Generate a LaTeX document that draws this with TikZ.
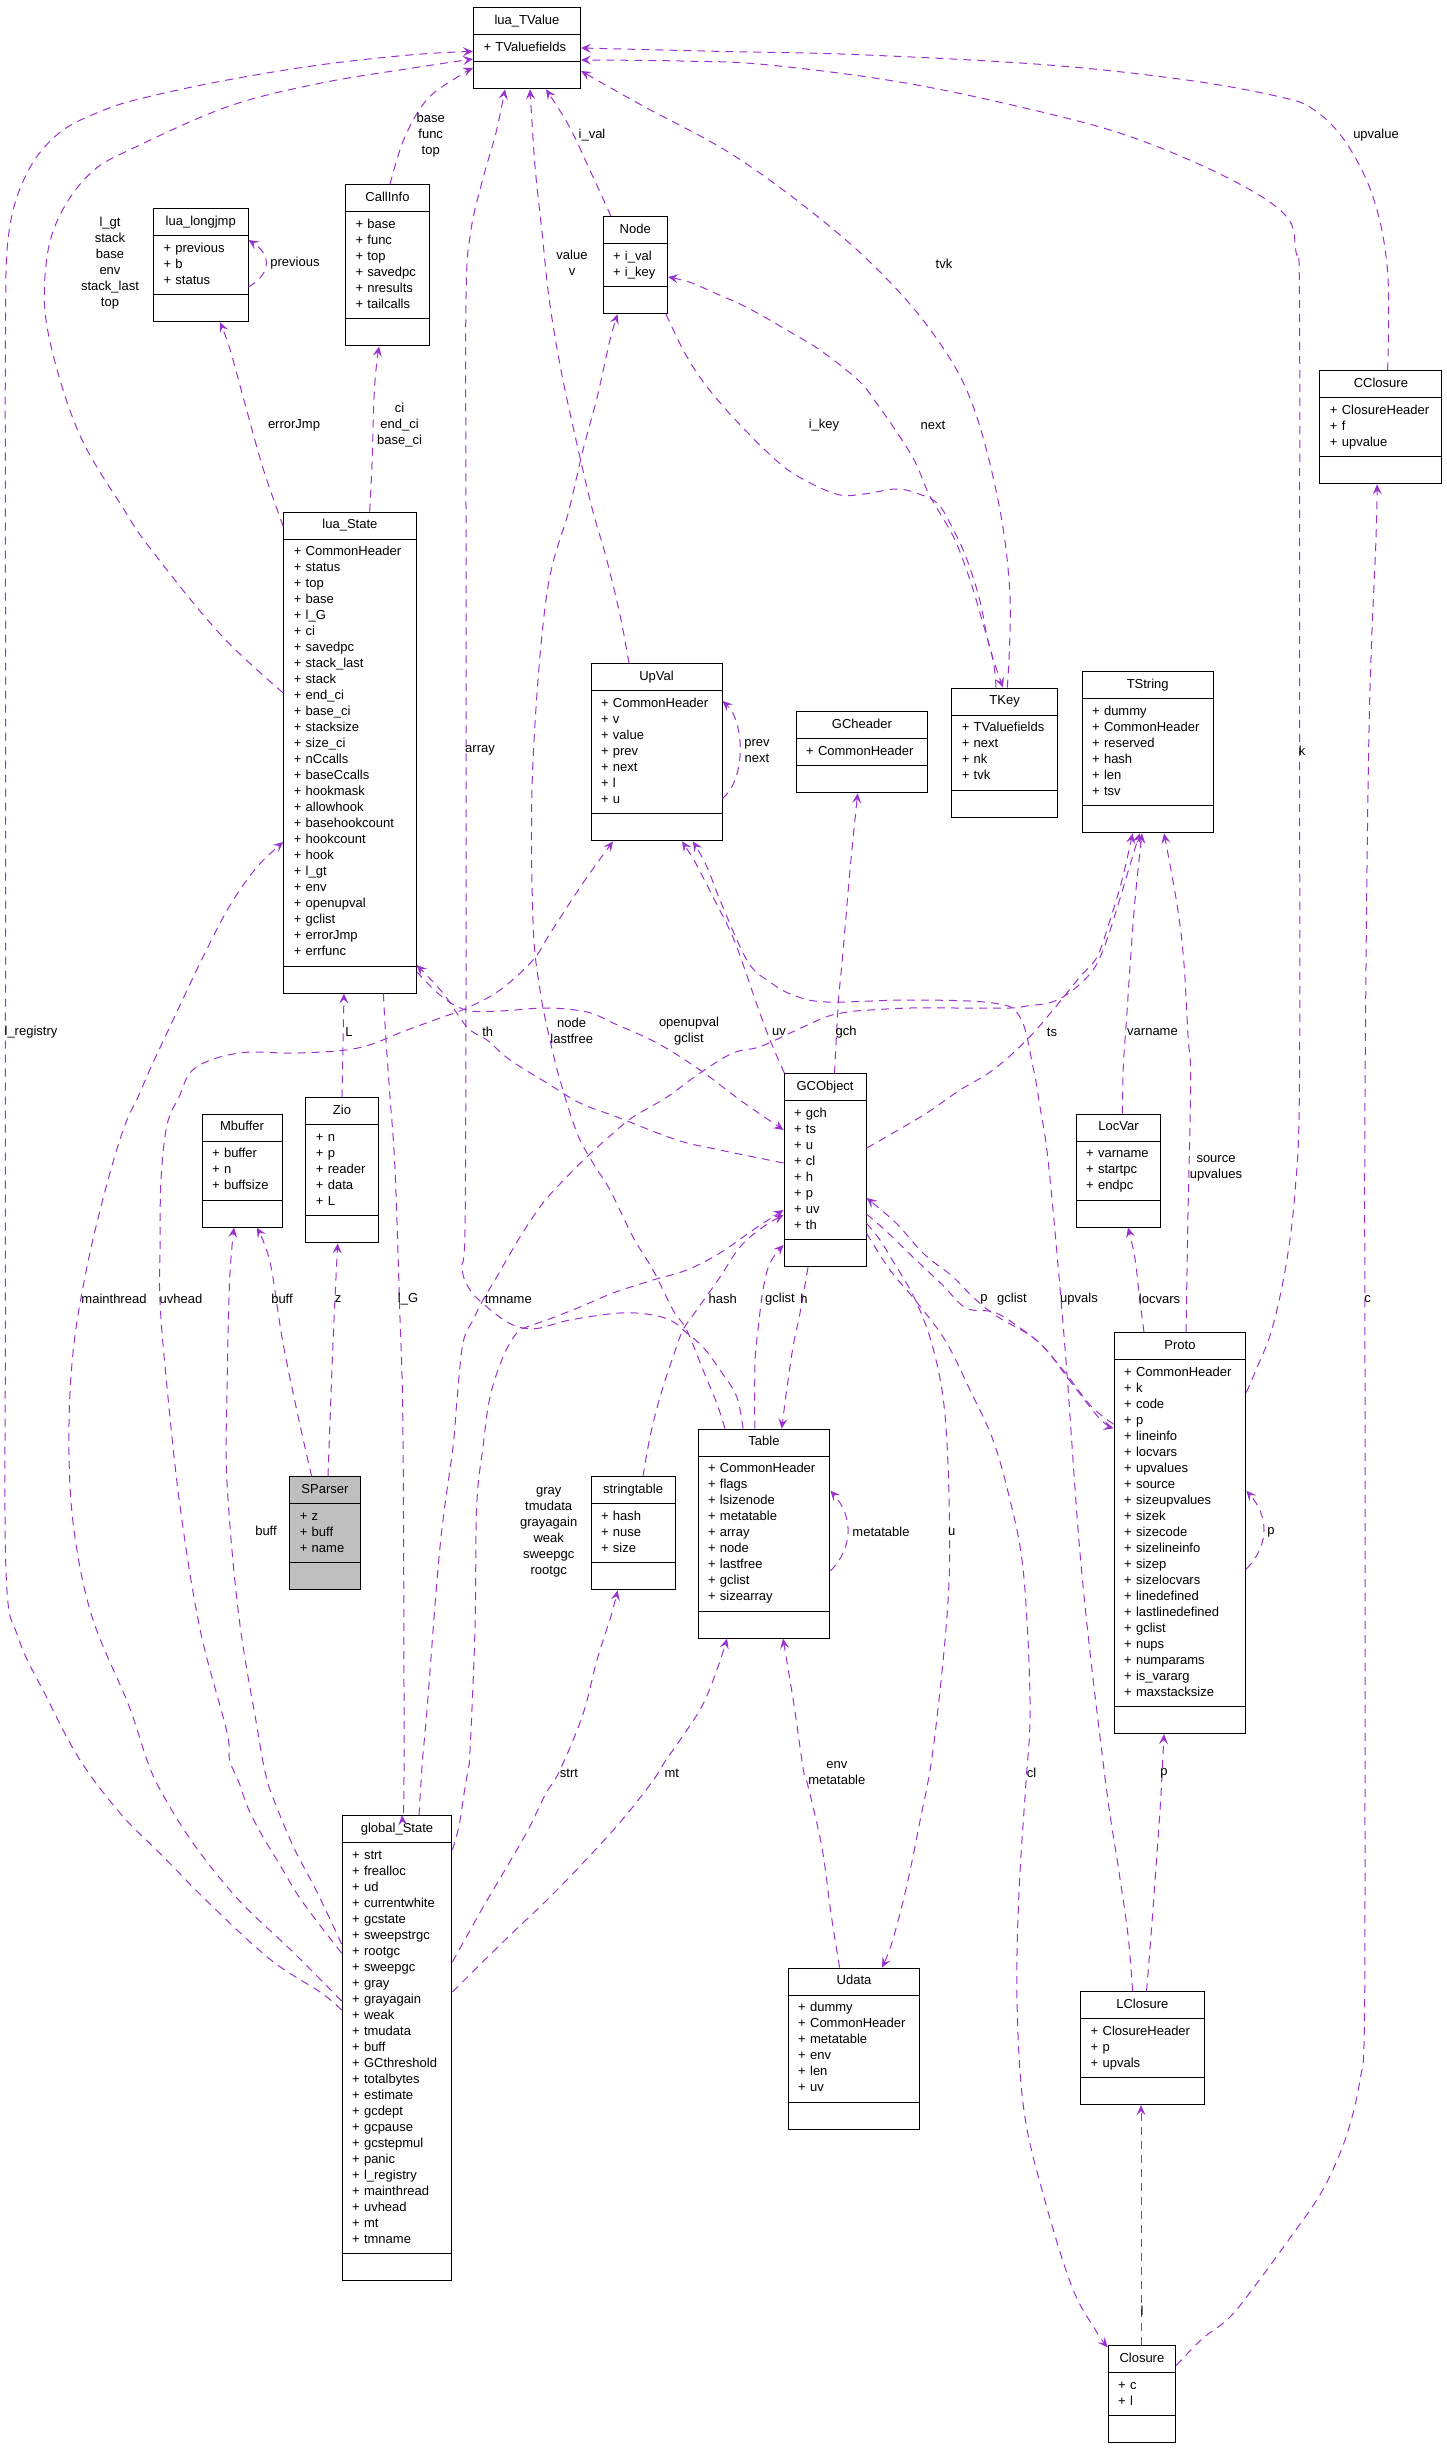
\documentclass[tikz,border=0pt]{standalone}
\usepackage{fontspec}
\setmainfont{Liberation Sans}
\usetikzlibrary{arrows.meta, shapes.multipart}
\definecolor{edgepurple}{RGB}{154,50,205}
\newcommand{\boxfont}{\fontsize{13}{16}\selectfont}
% one class box: name, top left corner, text width, title, members
\newcommand{\umlclass}[6][]{%
  \node[classbox, text width=#4, #1] (#2) at (#3)
    {\boxfont\centering\strut #5\strut\par\nodepart{second}\boxfont\raggedright\strut #6\strut\par\nodepart{third}\boxfont\strut\par};}

\begin{document}
\begin{tikzpicture}[x=1pt, y=-1pt,
    classbox/.style={rectangle split, rectangle split parts=3, draw=black, line width=1pt,
      anchor=north west, inner xsep=10pt, inner ysep=5pt, font=\boxfont, fill=white},
    dep/.style={draw=edgepurple, line width=1pt, dash pattern=on 8pt off 6pt,
      -{Stealth[length=10pt, width=9pt, inset=4pt]}},
    lbl/.style={font=\boxfont, align=center, inner sep=0pt}
]
\useasboundingbox (0,0) rectangle (1447,2448);

% classes
\umlclass{TValue}{473,7.3}{87pt}{lua\_TValue}{+ TValuefields}
\umlclass{CallInfo}{345,184.4}{64pt}{CallInfo}{+ base\\+ func\\+ top\\+ savedpc\\+ nresults\\+ tailcalls}
\umlclass{ljmp}{153,208.2}{74.5pt}{lua\_longjmp}{+ previous\\+ b\\+ status}
\umlclass{Node}{602.5,216.2}{44.5pt}{Node}{+ i\_val\\+ i\_key}
\umlclass{CClosure}{1319.4,370.4}{102pt}{CClosure}{+ ClosureHeader\\+ f\\+ upvalue}
\umlclass{lState}{283.3,511.5}{112.3pt}{lua\_State}{+ CommonHeader\\+ status\\+ top\\+ base\\+ l\_G\\+ ci\\+ savedpc\\+ stack\_last\\+ stack\\+ end\_ci\\+ base\_ci\\+ stacksize\\+ size\_ci\\+ nCcalls\\+ baseCcalls\\+ hookmask\\+ allowhook\\+ basehookcount\\+ hookcount\\+ hook\\+ l\_gt\\+ env\\+ openupval\\+ gclist\\+ errorJmp\\+ errfunc}
\umlclass{UpVal}{590.5,663.4}{111pt}{UpVal}{+ CommonHeader\\+ v\\+ value\\+ prev\\+ next\\+ l\\+ u}
\umlclass{GCheader}{795.6,711.2}{111.6pt}{GCheader}{+ CommonHeader}
\umlclass{TKey}{951.3,687.5}{85.7pt}{TKey}{+ TValuefields\\+ next\\+ nk\\+ tvk}
\umlclass{TString}{1081.6,671.4}{111.2pt}{TString}{+ dummy\\+ CommonHeader\\+ reserved\\+ hash\\+ len\\+ tsv}
\umlclass{GCObject}{783.5,1073.3}{62.1pt}{GCObject}{+ gch\\+ ts\\+ u\\+ cl\\+ h\\+ p\\+ uv\\+ th}
\umlclass{Mbuffer}{201.6,1113.5}{59.9pt}{Mbuffer}{+ buffer\\+ n\\+ buffsize}
\umlclass{Zio}{305.4,1097.4}{52.1pt}{Zio}{+ n\\+ p\\+ reader\\+ data\\+ L}
\umlclass[fill=gray!50]{SParser}{289.3,1476.4}{50.3pt}{SParser}{+ z\\+ buff\\+ name}
\umlclass{strtab}{590.5,1476.4}{64.1pt}{stringtable}{+ hash\\+ nuse\\+ size}
\umlclass{Table}{697.5,1428.6}{111.9pt}{Table}{+ CommonHeader\\+ flags\\+ lsizenode\\+ metatable\\+ array\\+ node\\+ lastfree\\+ gclist\\+ sizearray}
\umlclass{LocVar}{1075.6,1113.5}{64.8pt}{LocVar}{+ varname\\+ startpc\\+ endpc}
\umlclass{Proto}{1113.6,1332.2}{111.7pt}{Proto}{+ CommonHeader\\+ k\\+ code\\+ p\\+ lineinfo\\+ locvars\\+ upvalues\\+ source\\+ sizeupvalues\\+ sizek\\+ sizecode\\+ sizelineinfo\\+ sizep\\+ sizelocvars\\+ linedefined\\+ lastlinedefined\\+ gclist\\+ nups\\+ numparams\\+ is\_vararg\\+ maxstacksize}
\umlclass{gState}{341.6,1815.3}{89.8pt}{global\_State}{+ strt\\+ frealloc\\+ ud\\+ currentwhite\\+ gcstate\\+ sweepstrgc\\+ rootgc\\+ sweepgc\\+ gray\\+ grayagain\\+ weak\\+ tmudata\\+ buff\\+ GCthreshold\\+ totalbytes\\+ estimate\\+ gcdept\\+ gcpause\\+ gcstepmul\\+ panic\\+ l\_registry\\+ mainthread\\+ uvhead\\+ mt\\+ tmname}
\umlclass{Udata}{787.7,1967.6}{111.6pt}{Udata}{+ dummy\\+ CommonHeader\\+ metatable\\+ env\\+ len\\+ uv}
\umlclass{LClosure}{1080.2,1991.2}{103.3pt}{LClosure}{+ ClosureHeader\\+ p\\+ upvals}
\umlclass{Closure}{1107.6,2345.4}{47.6pt}{Closure}{+ c\\+ l}

% edges into lua_TValue
\draw[dep] plot[smooth, tension=.6] coordinates {([yshift=-181.5pt]lState.north west) (220,634) (151.5,550) (124,509.6) (78,431) (48,332) (46,265) (59.7,215.5) (91.8,172) (137.8,146) (229.6,106) (321.4,83) (413,68) ([yshift=-51.7pt]TValue.north west)};
\draw[dep] plot[smooth, tension=.6] coordinates {([yshift=-194.7pt]gState.north west) (321,1992.6) (271,1960) (211,1905) (160.7,1854) (121.7,1815) (80,1760) (46,1696) (18.4,1638) (6,1571) (5.5,1300) (5.5,1000) (5.5,600) (5.5,332) (9,232) (27.6,172) (59.7,132.6) (105.6,109.4) (151.5,96) (229.6,79.6) (321.4,64.7) (413,54.7) ([yshift=-44.1pt]TValue.north west)};
\draw[dep] plot[smooth, tension=.6] coordinates {([xshift=45pt]CallInfo.north west) (404,139) (427,99.5) (459,76) ([yshift=-60.7pt]TValue.north west)};
\draw[dep] plot[smooth, tension=.6] coordinates {([xshift=45.5pt]Table.north west) (736.7,1396.7) (720,1370) (703,1347) (686.7,1333) (673,1321.7) (653,1315) (620,1313) (570,1320) (540,1328) (523,1328) (506.7,1321.7) (486.7,1306.7) (470,1290) (462,1268) (465,1230) (466,1000) (466,700) (466,517) (466,298) (470.7,232) (482,182) (496,132.6) ([xshift=32pt]TValue.south west)};
\draw[dep] plot[smooth, tension=.6] coordinates {([xshift=38.5pt]UpVal.north west) (620,615) (606,557) (592,508) (574,431) (560,365) (549,298) (542,232) (535,166) ([xshift=57pt]TValue.south west)};
\draw[dep] plot[smooth, tension=.6] coordinates {([xshift=8.5pt]Node.north west) (588,166) (569,126) ([xshift=73pt]TValue.south west)};
\draw[dep] plot[smooth, tension=.6] coordinates {([xshift=56pt]TKey.north west) (1010,596) (998,500) (970,398) (929,328) (873,265) (808,209) (729,152.5) (643,106) ([yshift=-63.7pt]TValue.north east)};
\draw[dep] plot[smooth, tension=.6] coordinates {([yshift=-60.3pt]Proto.north east) (1257.8,1365.7) (1271.7,1330) (1285.6,1267.5) (1295,1191.6) (1299.5,1080) (1299.5,700) (1299.5,300) (1296,252) (1285.6,215.5) (1230,179) (1137,139) (1044.5,112.7) (905.5,83) (766,64.7) (680,61) ([yshift=-52.7pt]TValue.north east)};
\draw[dep] plot[smooth, tension=.6] coordinates {([xshift=68.2pt]CClosure.north west) (1387.6,272) (1373.7,199) (1346,142.6) (1313.4,109.4) (1276,96) (1183.6,79.6) (1044.5,64.7) (859,54.7) (720,51.4) ([yshift=-40.7pt]TValue.north east)};

% upper left
\draw[dep] ([yshift=-78.8pt]ljmp.north east) .. controls +(24,-14) and +(22,14) .. ([yshift=-31.8pt]ljmp.north east);
\draw[dep] plot[smooth, tension=.6] coordinates {([yshift=-15pt]lState.north west) (275.5,505) (261.7,464) (243.4,398) (229.6,348) ([xshift=67pt]ljmp.south west)};
\draw[dep] plot[smooth, tension=.6] coordinates {([xshift=86.4pt]lState.north west) (372,464) (374,398) (376.5,364.8) ([xshift=34pt]CallInfo.south west)};

% Node and TKey
\draw[dep] plot[smooth, tension=.6] coordinates {([xshift=44.7pt]TKey.north west) (993,660) (982,620) (970,580) (955,540) (938,510) (928.6,494) (914.7,461) (896,431) (877.6,404.6) (859,381) (822,351.5) (789.5,331.6) (748,308) (716,293.5) (689,282) ([yshift=-60.8pt]Node.north east)};
\draw[dep] plot[smooth, tension=.6] coordinates {([xshift=63.5pt]Node.south west) (684,351.5) (702.6,381) (724.6,408) (743,427.8) (766,451) (794,474) (836,494) (864,494) (896,489) (919,494) (938,504) (952,527) (966,557) (979.6,599.5) (989,645) ([xshift=51.7pt]TKey.north west)};

% UpVal
\draw[dep] ([yshift=-135.1pt]UpVal.north east) .. controls +(24,-20) and +(22,20) .. ([yshift=-37.6pt]UpVal.north east);
\draw[dep] plot[smooth, tension=.6] coordinates {([xshift=51pt]GCObject.north west) (838.3,1003) (842.3,960) (850,870) ([xshift=62.1pt]GCheader.south west)};
\draw[dep] plot[smooth, tension=.6] coordinates {([xshift=1pt]GCObject.north west) (770,1040) (757,1005) (745,970) (732,935) (712,895) (695,862) ([xshift=91.5pt]UpVal.south west)};
\draw[dep] plot[smooth, tension=.6] coordinates {([xshift=52.4pt]LClosure.north west) (1128,1935) (1118.7,1870) (1104.8,1776) (1081.6,1571) (1065,1348) (1049,1169) (1040,1107) (1033,1067) (1020,1017) (993,1003) (910,1000) (827,1002) (793,995) (770,982) (748,962) (722,905) (707,867) ([xshift=102.5pt]UpVal.south west)};
\draw[dep] plot[smooth, tension=.6] coordinates {([yshift=-137.7pt]gState.north west) (321,1926.7) (298.5,1896) (280,1865) (261.7,1834.6) (248,1808) (238.8,1782) (229.6,1760) (226.7,1731) (200,1629) (180,1506) (166.7,1384) (160,1302) (160,1250) (161,1180) (167,1125) (179,1097) (195,1068) (239,1053) (298,1053) (358,1048) (407,1030) (440,1018) (467,1008) (500,990) (533,960) (551,932) (583,883) ([xshift=22.5pt]UpVal.south west)};

% lua_State and GCObject
\draw[dep] plot[smooth, tension=.6] coordinates {([yshift=-460pt]lState.north east) (440,995) (466,1010) (500,1011) (547,1008) (587,1012) (613,1023) (657,1043) (700,1070) (740,1100) ([yshift=-56.7pt]GCObject.north west)};
\draw[dep] plot[smooth, tension=.6] coordinates {([yshift=-89.7pt]GCObject.north west) (720,1150) (677,1140) (617,1117) (580,1103) (547,1083) (510,1060) (487,1040) (467,1027) (443,993) ([yshift=-453.5pt]lState.north east)};

% into TString and LocVar
\draw[dep] plot[smooth, tension=.6] coordinates {([yshift=-74.7pt]GCObject.north east) (893,1133) (926.7,1113) (960,1090) (993,1070) (1026.7,1040) (1053,1010) (1080,976.7) (1097,957) (1110,920) (1122,880) ([xshift=51pt]TString.south west)};
\draw[dep] plot[smooth, tension=.6] coordinates {([xshift=77.4pt]gState.north west) (422.5,1760) (427,1710) (440,1547) (453,1447) (456.7,1403) (463,1343) (473,1320) (483,1300) (496.7,1277) (520,1237) (543,1203) (566.7,1177) (586.7,1157) (616.7,1130) (633,1117) (667,1097) (700,1073) (733,1053) (760,1046.7) (793,1031.7) (826.7,1016.7) (850,1011.7) (870,1010) (910,1008) (960,1008) (1010,1008) (1027,1006) (1053,1001.7) (1073,990) (1093,970) (1105,945) (1118,905) (1130,865) ([xshift=58pt]TString.south west)};
\draw[dep] plot[smooth, tension=.6] coordinates {([xshift=46.8pt]LocVar.north west) (1123.3,1066.7) (1126.7,1016.7) (1130,966.7) (1135,900) ([xshift=60.4pt]TString.south west)};
\draw[dep] plot[smooth, tension=.6] coordinates {([xshift=72.4pt]Proto.north west) (1188,1214) (1190.6,1080) (1188,1036) (1183.6,959) (1176.6,902) ([xshift=82.4pt]TString.south west)};
\draw[dep] plot[smooth, tension=.6] coordinates {([xshift=30.4pt]Proto.north west) (1139.6,1298.7) (1135,1258.6) ([xshift=52.4pt]LocVar.south west)};

% left column
\draw[dep] ([xshift=36.6pt]Zio.north west) -- ([xshift=60.7pt]lState.south west);
\draw[dep] plot[smooth, tension=.6] coordinates {([yshift=-185.7pt]gState.north west) (294,1953) (238.8,1900) (193,1843) (160.7,1790.7) (147,1760) (128.6,1705) (91.8,1616) (73.5,1526) (68.9,1437) (73.5,1348) (88,1262) (108,1180) (125,1125) (138,1097) (151.5,1066) (174.5,1017) (202,959) (229.6,906) (257,867) ([yshift=-330.5pt]lState.north west)};
\draw[dep] plot[smooth, tension=.6] coordinates {([xshift=100.1pt]lState.south west) (385.7,1036) (390,1097) (395,1169) (399.5,1303) (403,1437) (404,1776) ([xshift=60.4pt]gState.north west)};
\draw[dep] plot[smooth, tension=.6] coordinates {([yshift=-128.7pt]gState.north west) (316.8,1891.6) (294,1848) (275.5,1804) (266,1776) (257,1727) (238.8,1616) (227,1482) (227,1392.5) (229.6,1281) ([xshift=32.4pt]Mbuffer.south west)};
\draw[dep] plot[smooth, tension=.6] coordinates {([xshift=22.4pt]SParser.north west) (300,1425) (283,1343) (270,1262) ([xshift=55.1pt]Mbuffer.south west)};
\draw[dep] plot[smooth, tension=.6] coordinates {([xshift=38.7pt]SParser.north west) (333,1343) ([xshift=32.3pt]Zio.south west)};

% into GCObject and Table
\draw[dep] plot[smooth, tension=.6] coordinates {([yshift=-34.7pt]gState.north east) (459,1826) (463.8,1795) (468,1769) (470,1751) (475,1629) (476.7,1506) (483,1447) (490,1397) (503,1357) (516.7,1333) (526.7,1327) (546.7,1320) (580,1307) (613,1293) (653,1280) (686.7,1270) (720,1253) (753,1230) ([yshift=-136.7pt]GCObject.north west)};
\draw[dep] plot[smooth, tension=.6] coordinates {([xshift=52.5pt]strtab.north west) (650,1437) (660,1397) (673,1357) (683,1330) (696.7,1310) (720,1277) (740,1247) (763,1227) ([yshift=-141.7pt]GCObject.north west)};
\draw[dep] plot[smooth, tension=.6] coordinates {([xshift=57.3pt]Table.north west) (755,1363) (758,1330) (763,1290) (770,1263) ([yshift=-171.7pt]GCObject.north west)};
\draw[dep] plot[smooth, tension=.6] coordinates {([xshift=24.5pt]GCObject.south west) (800,1313) (793,1347) (786.7,1390) ([xshift=84.2pt]Table.north west)};
\draw[dep] plot[smooth, tension=.6] coordinates {([xshift=27.5pt]Table.north west) (716.7,1403) (703,1370) (686.7,1330) (673,1310) (653,1270) (633,1237) (610,1190) (593,1163) (577,1133) (560,1080) (550,1040) (540,990) (533,921) (532.7,768) (546.5,596) (569,510) (583,450) (597,398) (610,340) ([xshift=15.1pt]Node.south west)};

% Proto
\draw[dep] plot[smooth, tension=.6] coordinates {([yshift=-92pt]Proto.north west) (1091,1406) (1063,1370) (1035,1339) (998,1317) (975,1299) (952,1276) (924,1254) (896,1223) ([yshift=-124.7pt]GCObject.north east)};
\draw[dep] plot[smooth, tension=.6] coordinates {([yshift=-140.7pt]GCObject.north east) (887,1232) (915,1259) (942.5,1285) (966,1308) (993.5,1312) (1016.7,1325.5) (1044.5,1348) (1072,1383.6) (1100,1419) ([yshift=-96pt]Proto.north west)};
\draw[dep] ([yshift=-236.8pt]Proto.north east) .. controls +(24,-25) and +(22,25) .. ([yshift=-158.5pt]Proto.north east);
\draw[dep] plot[smooth, tension=.6] coordinates {([xshift=66.3pt]LClosure.north west) (1151,1935.5) (1155.8,1869.7) (1160.4,1804) (1162.7,1760) ([xshift=50.4pt]Proto.south west)};

% closures
\draw[dep] ([xshift=33.4pt]Closure.north west) -- ([xshift=60.8pt]LClosure.south west);
\draw[dep] plot[smooth, tension=.6] coordinates {([yshift=-20.1pt]Closure.north east) (1202,2339) (1230,2317) (1257.8,2282) (1290,2238) (1322.7,2190) (1346,2137) (1360,2080) (1364.4,2023) (1365,1760) (1365,1400) (1365,1097) (1369,730) (1376,538) ([xshift=57.6pt]CClosure.south west)};
\draw[dep] plot[smooth, tension=.6] coordinates {([yshift=-160pt]GCObject.north east) (890,1270) (915,1300) (945,1340) (970,1390) (993,1440) (1010,1500) (1022,1560) (1028,1640) (1030,1720) (1026,1782) (1019,1892) (1017,2001) (1024,2111) (1044.5,2199) (1072,2287) (1095.5,2330) ([yshift=-2pt]Closure.north west)};

% Udata and Table
\draw[dep] plot[smooth, tension=.6] coordinates {([yshift=-150pt]GCObject.north east) (880,1240) (891.5,1258.6) (914.7,1298.7) (933,1348) (945,1415) (949.5,1526) (947,1616) (933,1750) (919,1826) (905.4,1891.6) (891.5,1944) ([xshift=94.3pt]Udata.north west)};
\draw[dep] plot[smooth, tension=.6] coordinates {([xshift=51.9pt]Udata.north west) (831,1913.6) (822,1847.8) (808,1786) (803.4,1770) (794,1705) ([xshift=85.5pt]Table.south west)};
\draw[dep] ([yshift=-142.4pt]Table.north east) .. controls +(24,-25) and +(22,25) .. ([yshift=-62pt]Table.north east);
\draw[dep] plot[smooth, tension=.6] coordinates {([yshift=-146.7pt]gState.north east) (482,1909) (505,1870) (528,1830) (545,1795) (560,1770) (583,1714) (597,1660) (611,1616) ([xshift=27.1pt]strtab.south west)};
\draw[dep] plot[smooth, tension=.6] coordinates {([yshift=-176.7pt]gState.north east) (505,1940) (551,1896) (597,1848) (624.5,1817) (652,1782) (666,1760) (679.6,1740.7) (702.6,1705) (718.6,1665) ([xshift=29.5pt]Table.south west)};

% edge labels
\node[lbl] (lbLgt) at (110,263.5) {l\_gt\\stack\\base\\env\\stack\_last\\top};
\node[lbl] (lbRegistry) at (31,1032) {l\_registry};
\node[lbl] (lbBase) at (430.7,135.3) {base\\func\\top};
\node[lbl] (lbArray) at (480,750.7) {array};
\node[lbl] (lbValue) at (572,263) {value\\v};
\node[lbl] (lbIval) at (592,135) {i\_val};
\node[lbl] (lbTvk) at (944,263.6) {tvk};
\node[lbl] (lbK) at (1302,750.7) {k};
\node[lbl] (lbUpvalue) at (1376,135.3) {upvalue};
\node[lbl] (lbPrevious) at (295,263.6) {previous};
\node[lbl] (lbErrorJmp) at (294,425.4) {errorJmp};
\node[lbl] (lbCi) at (399.5,425.4) {ci\\end\_ci\\base\_ci};
\node[lbl] (lbNext) at (933,425.4) {next};
\node[lbl] (lbIkey) at (824,425.4) {i\_key};
\node[lbl] (lbPrevNext) at (757,751) {prev\\next};
\node[lbl] (lbGch) at (846,1032) {gch};
\node[lbl] (lbUv) at (779,1032) {uv};
\node[lbl] (lbUpvals) at (1079,1299) {upvals};
\node[lbl] (lbUvhead) at (181,1299) {uvhead};
\node[lbl] (lbOpenupval) at (689,1031) {openupval\\gclist};
\node[lbl] (lbTh) at (487.7,1032) {th};
\node[lbl] (lbTs) at (1052,1032) {ts};
\node[lbl] (lbTmname) at (508.3,1299) {tmname};
\node[lbl] (lbVarname) at (1152.5,1032) {varname};
\node[lbl] (lbSource) at (1216,1168.5) {source\\upvalues};
\node[lbl] (lbLocvars) at (1159.5,1299) {locvars};
\node[lbl] (lbL) at (349,1032) {L};
\node[lbl] (lbMainthread) at (114,1299) {mainthread};
\node[lbl] (lbLG) at (408,1299) {l\_G};
\node[lbl] (lbBuffG) at (266,1531) {buff};
\node[lbl] (lbBuffP) at (282,1299) {buff};
\node[lbl] (lbZ) at (338,1299) {z};
\node[lbl] (lbGray) at (548.7,1532) {gray\\tmudata\\grayagain\\weak\\sweepgc\\rootgc};
\node[lbl] (lbHash) at (722.7,1299) {hash};
\node[lbl] (lbGclistT) at (780,1299) {gclist};
\node[lbl] (lbH) at (804,1299) {h};
\node[lbl] (lbNode) at (571.7,1031) {node\\lastfree};
\node[lbl] (lbGclistP) at (1012,1299) {gclist};
\node[lbl] (lbP) at (984,1299) {p};
\node[lbl] (lbPself) at (1271,1532) {p};
\node[lbl] (lbPl) at (1164,1773) {p};
\node[lbl] (lbLcl) at (1142,2311) {l};
\node[lbl] (lbC) at (1367.6,1299) {c};
\node[lbl] (lbCl) at (1031.5,1773) {cl};
\node[lbl] (lbU) at (951.8,1532) {u};
\node[lbl] (lbEnv) at (836.8,1773) {env\\metatable};
\node[lbl] (lbMeta) at (881,1532) {metatable};
\node[lbl] (lbStrt) at (569,1773) {strt};
\node[lbl] (lbMt) at (671.8,1773) {mt};

\end{tikzpicture}
\end{document}
